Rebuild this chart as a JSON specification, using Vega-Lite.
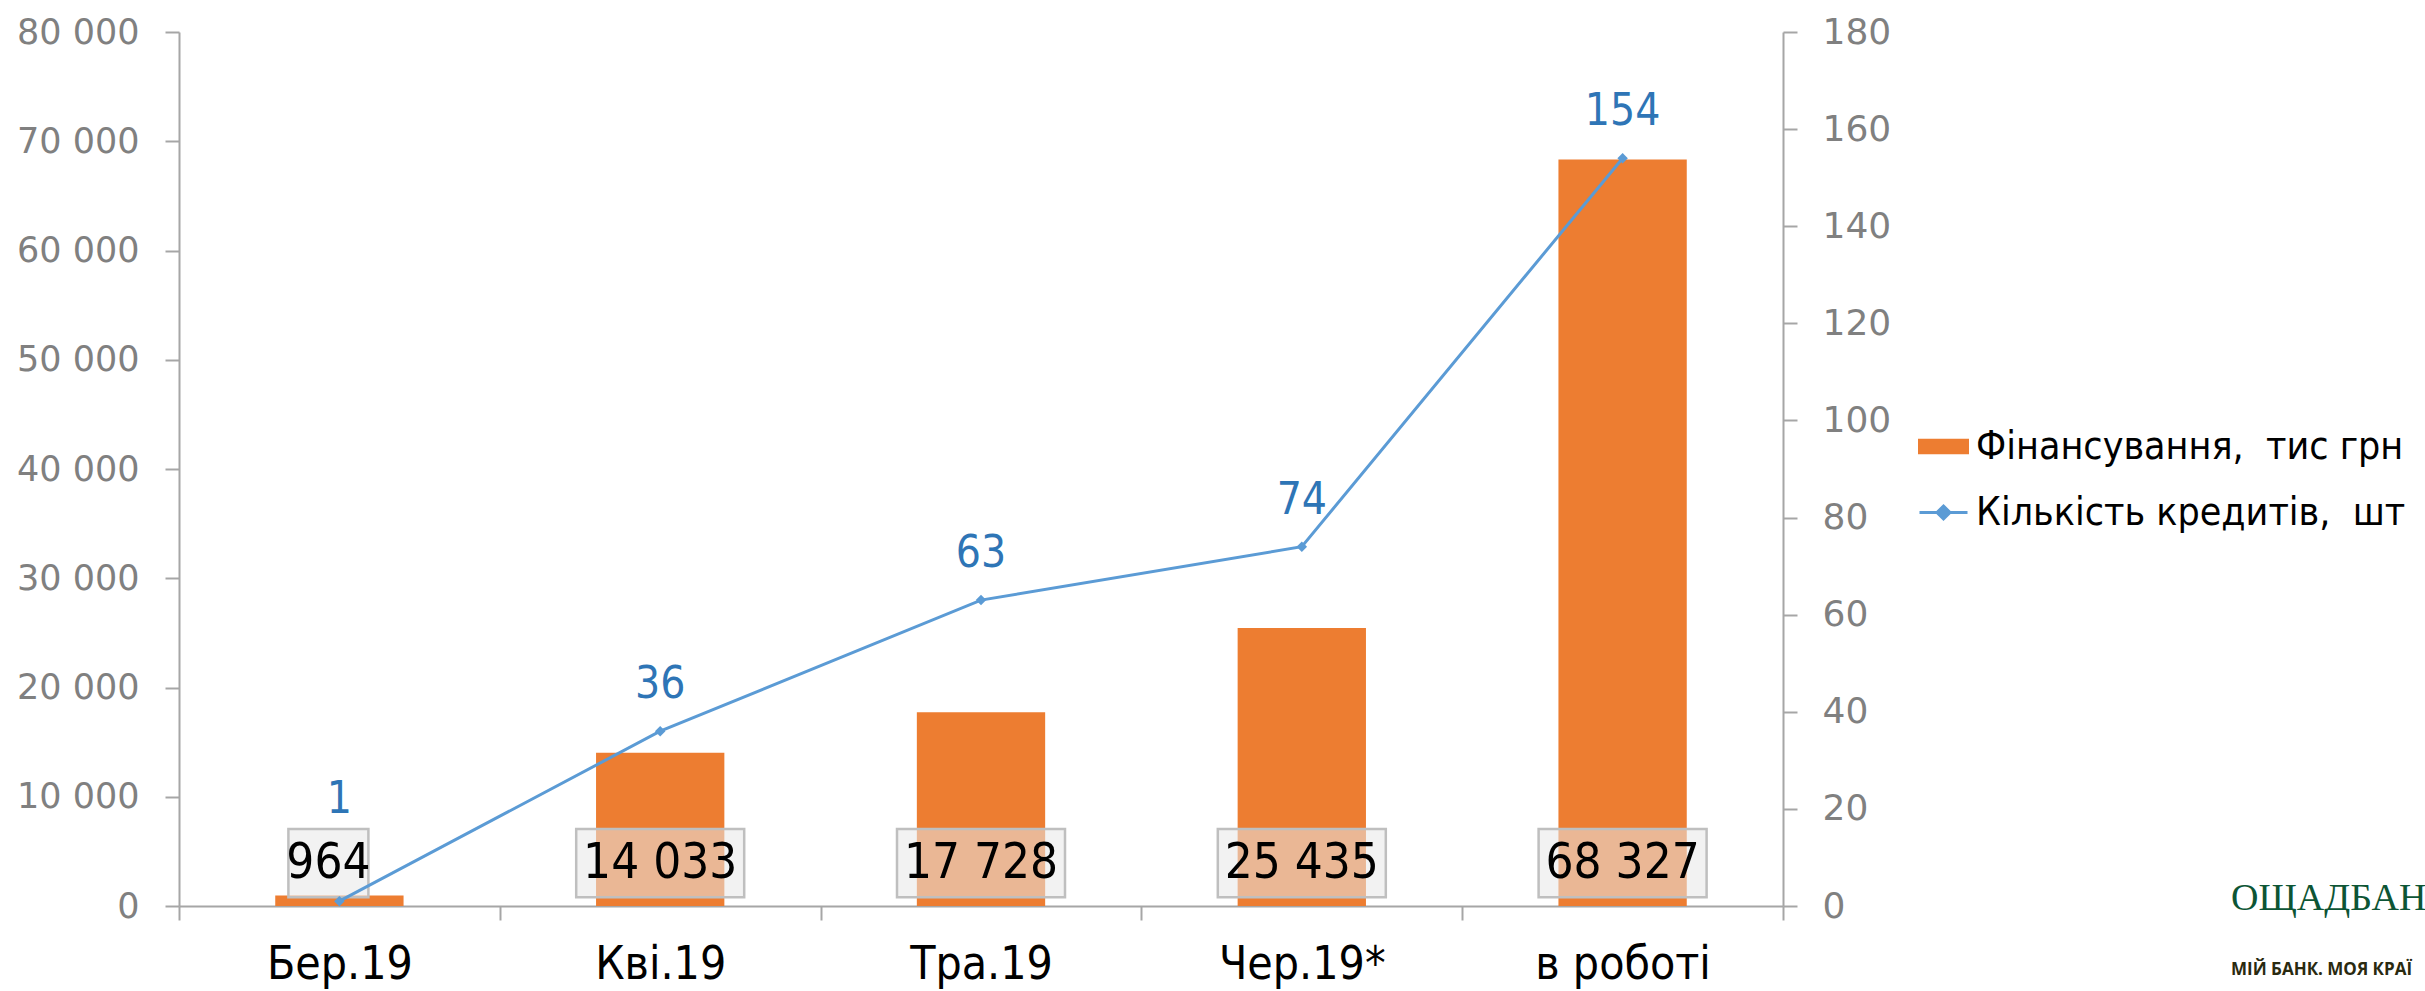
{
  "$schema": "https://vega.github.io/schema/vega-lite/v6.json",
  "width": 1604,
  "height": 874,
  "autosize": {"type": "none"},
  "padding": {"left": 179, "top": 32, "right": 642, "bottom": 85},
  "background": "white",
  "config": {
    "locale": {"number": {"decimal": ",", "thousands": " ", "grouping": [3], "currency": ["", ""]}},
    "view": {"stroke": null},
    "font": "DejaVu Sans Condensed"
  },
  "title": {
    "text": "ОЩАДБАН",
    "subtitle": "МІЙ БАНК. МОЯ КРАЇ",
    "orient": "top",
    "anchor": "start",
    "frame": "group",
    "dx": 2052,
    "dy": 968,
    "font": "Liberation Serif",
    "fontSize": 38,
    "fontWeight": "normal",
    "color": "#0d5535",
    "subtitleFont": "Open Sans",
    "subtitleFontSize": 17,
    "subtitleFontWeight": "bold",
    "subtitleColor": "#2a2a10",
    "subtitlePadding": 44
  },
  "data": {
    "values": [
      {"m": "Бер.19", "fin": 964, "cnt": 1},
      {"m": "Кві.19", "fin": 14033, "cnt": 36},
      {"m": "Тра.19", "fin": 17728, "cnt": 63},
      {"m": "Чер.19*", "fin": 25435, "cnt": 74},
      {"m": "в роботі", "fin": 68327, "cnt": 154}
    ]
  },
  "encoding": {
    "x": {
      "field": "m",
      "type": "nominal",
      "sort": null,
      "scale": {"paddingInner": 0, "paddingOuter": 0},
      "axis": {
        "title": null,
        "labelAngle": 0,
        "tickBand": "extent",
        "tickSize": 14,
        "tickWidth": 2,
        "tickColor": "#a6a6a6",
        "domainColor": "#a6a6a6",
        "domainWidth": 2,
        "labelFont": "DejaVu Sans Condensed",
        "labelFontSize": 46,
        "labelColor": "#000000",
        "labelPadding": 22,
        "grid": false
      }
    }
  },
  "layer": [
    {
      "layer": [
        {
          "mark": {"type": "bar", "width": {"band": 0.4}},
          "encoding": {
            "y": {
              "field": "fin",
              "type": "quantitative",
              "scale": {"domain": [0, 80000], "nice": false},
              "axis": {
                "title": null,
                "orient": "left",
                "values": [0, 10000, 20000, 30000, 40000, 50000, 60000, 70000, 80000],
                "format": ",d",
                "grid": false,
                "tickSize": 14,
                "tickWidth": 2,
                "tickColor": "#a6a6a6",
                "domainColor": "#a6a6a6",
                "domainWidth": 2,
                "labelFont": "DejaVu Sans",
                "labelFontSize": 35,
                "labelColor": "#808080",
                "labelPadding": 26
              }
            },
            "color": {
              "datum": "Фінансування, \u00a0тис грн",
              "type": "nominal",
              "scale": {
                "domain": ["Фінансування, \u00a0тис грн", "Кількість кредитів, \u00a0шт"],
                "range": ["#ed7d31", "#5b9bd5"]
              },
              "legend": {
                "orient": "none",
                "legendX": 1739,
                "legendY": 389,
                "title": null,
                "padding": 0,
                "symbolSize": 2304,
                "labelFont": "DejaVu Sans Condensed",
                "labelFontSize": 39,
                "labelColor": "#000000",
                "labelOffset": 7,
                "labelLimit": 1000,
                "rowPadding": 20,
                "encode": {
                  "symbols": {
                    "update": {
                      "shape": {"signal": "datum.value === 'Кількість кредитів, \u00a0шт' ? 'M-1,0H1M0,-0.27L0.27,0L0,0.27L-0.27,0Z' : 'M-1,-0.26H1V0.26H-1Z'"},
                      "fill": {"signal": "datum.value === 'Кількість кредитів, \u00a0шт' ? '#5b9bd5' : '#ed7d31'"},
                      "stroke": {"signal": "datum.value === 'Кількість кредитів, \u00a0шт' ? '#5b9bd5' : 'transparent'"},
                      "strokeWidth": {"value": 3},
                      "opacity": {"value": 1},
                      "fillOpacity": {"value": 1}
                    }
                  }
                }
              }
            }
          }
        },
        {
          "transform": [{"filter": "datum.fin >= 1000"}],
          "mark": {"type": "bar", "width": 168, "fill": "#e8e8e8", "fillOpacity": 0.55, "stroke": "#bfbfbf", "strokeWidth": 2.5},
          "encoding": {"y": {"datum": 800, "type": "quantitative"}, "y2": {"datum": 7050}}
        },
        {
          "transform": [{"filter": "datum.fin < 1000"}],
          "mark": {"type": "bar", "width": 80, "xOffset": -11, "fill": "#e8e8e8", "fillOpacity": 0.55, "stroke": "#bfbfbf", "strokeWidth": 2.5},
          "encoding": {"y": {"datum": 800, "type": "quantitative"}, "y2": {"datum": 7050}}
        },
        {
          "transform": [{"filter": "datum.fin >= 1000"}],
          "mark": {"type": "text", "fontSize": 49, "font": "DejaVu Sans Condensed", "color": "#000000", "baseline": "middle"},
          "encoding": {
            "y": {"datum": 3935, "type": "quantitative"},
            "text": {"field": "fin", "type": "quantitative", "format": ",d"}
          }
        },
        {
          "transform": [{"filter": "datum.fin < 1000"}],
          "mark": {"type": "text", "dx": -11, "fontSize": 49, "font": "DejaVu Sans Condensed", "color": "#000000", "baseline": "middle"},
          "encoding": {
            "y": {"datum": 3935, "type": "quantitative"},
            "text": {"field": "fin", "type": "quantitative", "format": ",d"}
          }
        }
      ]
    },
    {
      "layer": [
        {
          "mark": {
            "type": "line",
            "strokeWidth": 3,
            "point": {"shape": "diamond", "size": 110, "filled": true, "color": "#5b9bd5"}
          },
          "encoding": {
            "y": {
              "field": "cnt",
              "type": "quantitative",
              "scale": {"domain": [0, 180], "nice": false},
              "axis": {
                "title": null,
                "orient": "right",
                "values": [0, 20, 40, 60, 80, 100, 120, 140, 160, 180],
                "grid": false,
                "tickSize": 14,
                "tickWidth": 2,
                "tickColor": "#a6a6a6",
                "domainColor": "#a6a6a6",
                "domainWidth": 2,
                "labelFont": "DejaVu Sans",
                "labelFontSize": 36,
                "labelColor": "#808080",
                "labelPadding": 25
              }
            },
            "color": {"datum": "Кількість кредитів, \u00a0шт", "type": "nominal"}
          }
        },
        {
          "transform": [{"filter": "datum.cnt > 1"}],
          "mark": {"type": "text", "dy": -46, "fontSize": 44, "font": "DejaVu Sans Condensed", "color": "#2e75b6", "baseline": "middle"},
          "encoding": {
            "y": {"field": "cnt", "type": "quantitative"},
            "text": {"field": "cnt", "type": "quantitative"}
          }
        },
        {
          "transform": [{"filter": "datum.cnt <= 1"}],
          "mark": {"type": "text", "dy": -101, "fontSize": 44, "font": "DejaVu Sans Condensed", "color": "#2e75b6", "baseline": "middle"},
          "encoding": {
            "y": {"field": "cnt", "type": "quantitative"},
            "text": {"field": "cnt", "type": "quantitative"}
          }
        }
      ]
    }
  ],
  "resolve": {"scale": {"y": "independent"}}
}
